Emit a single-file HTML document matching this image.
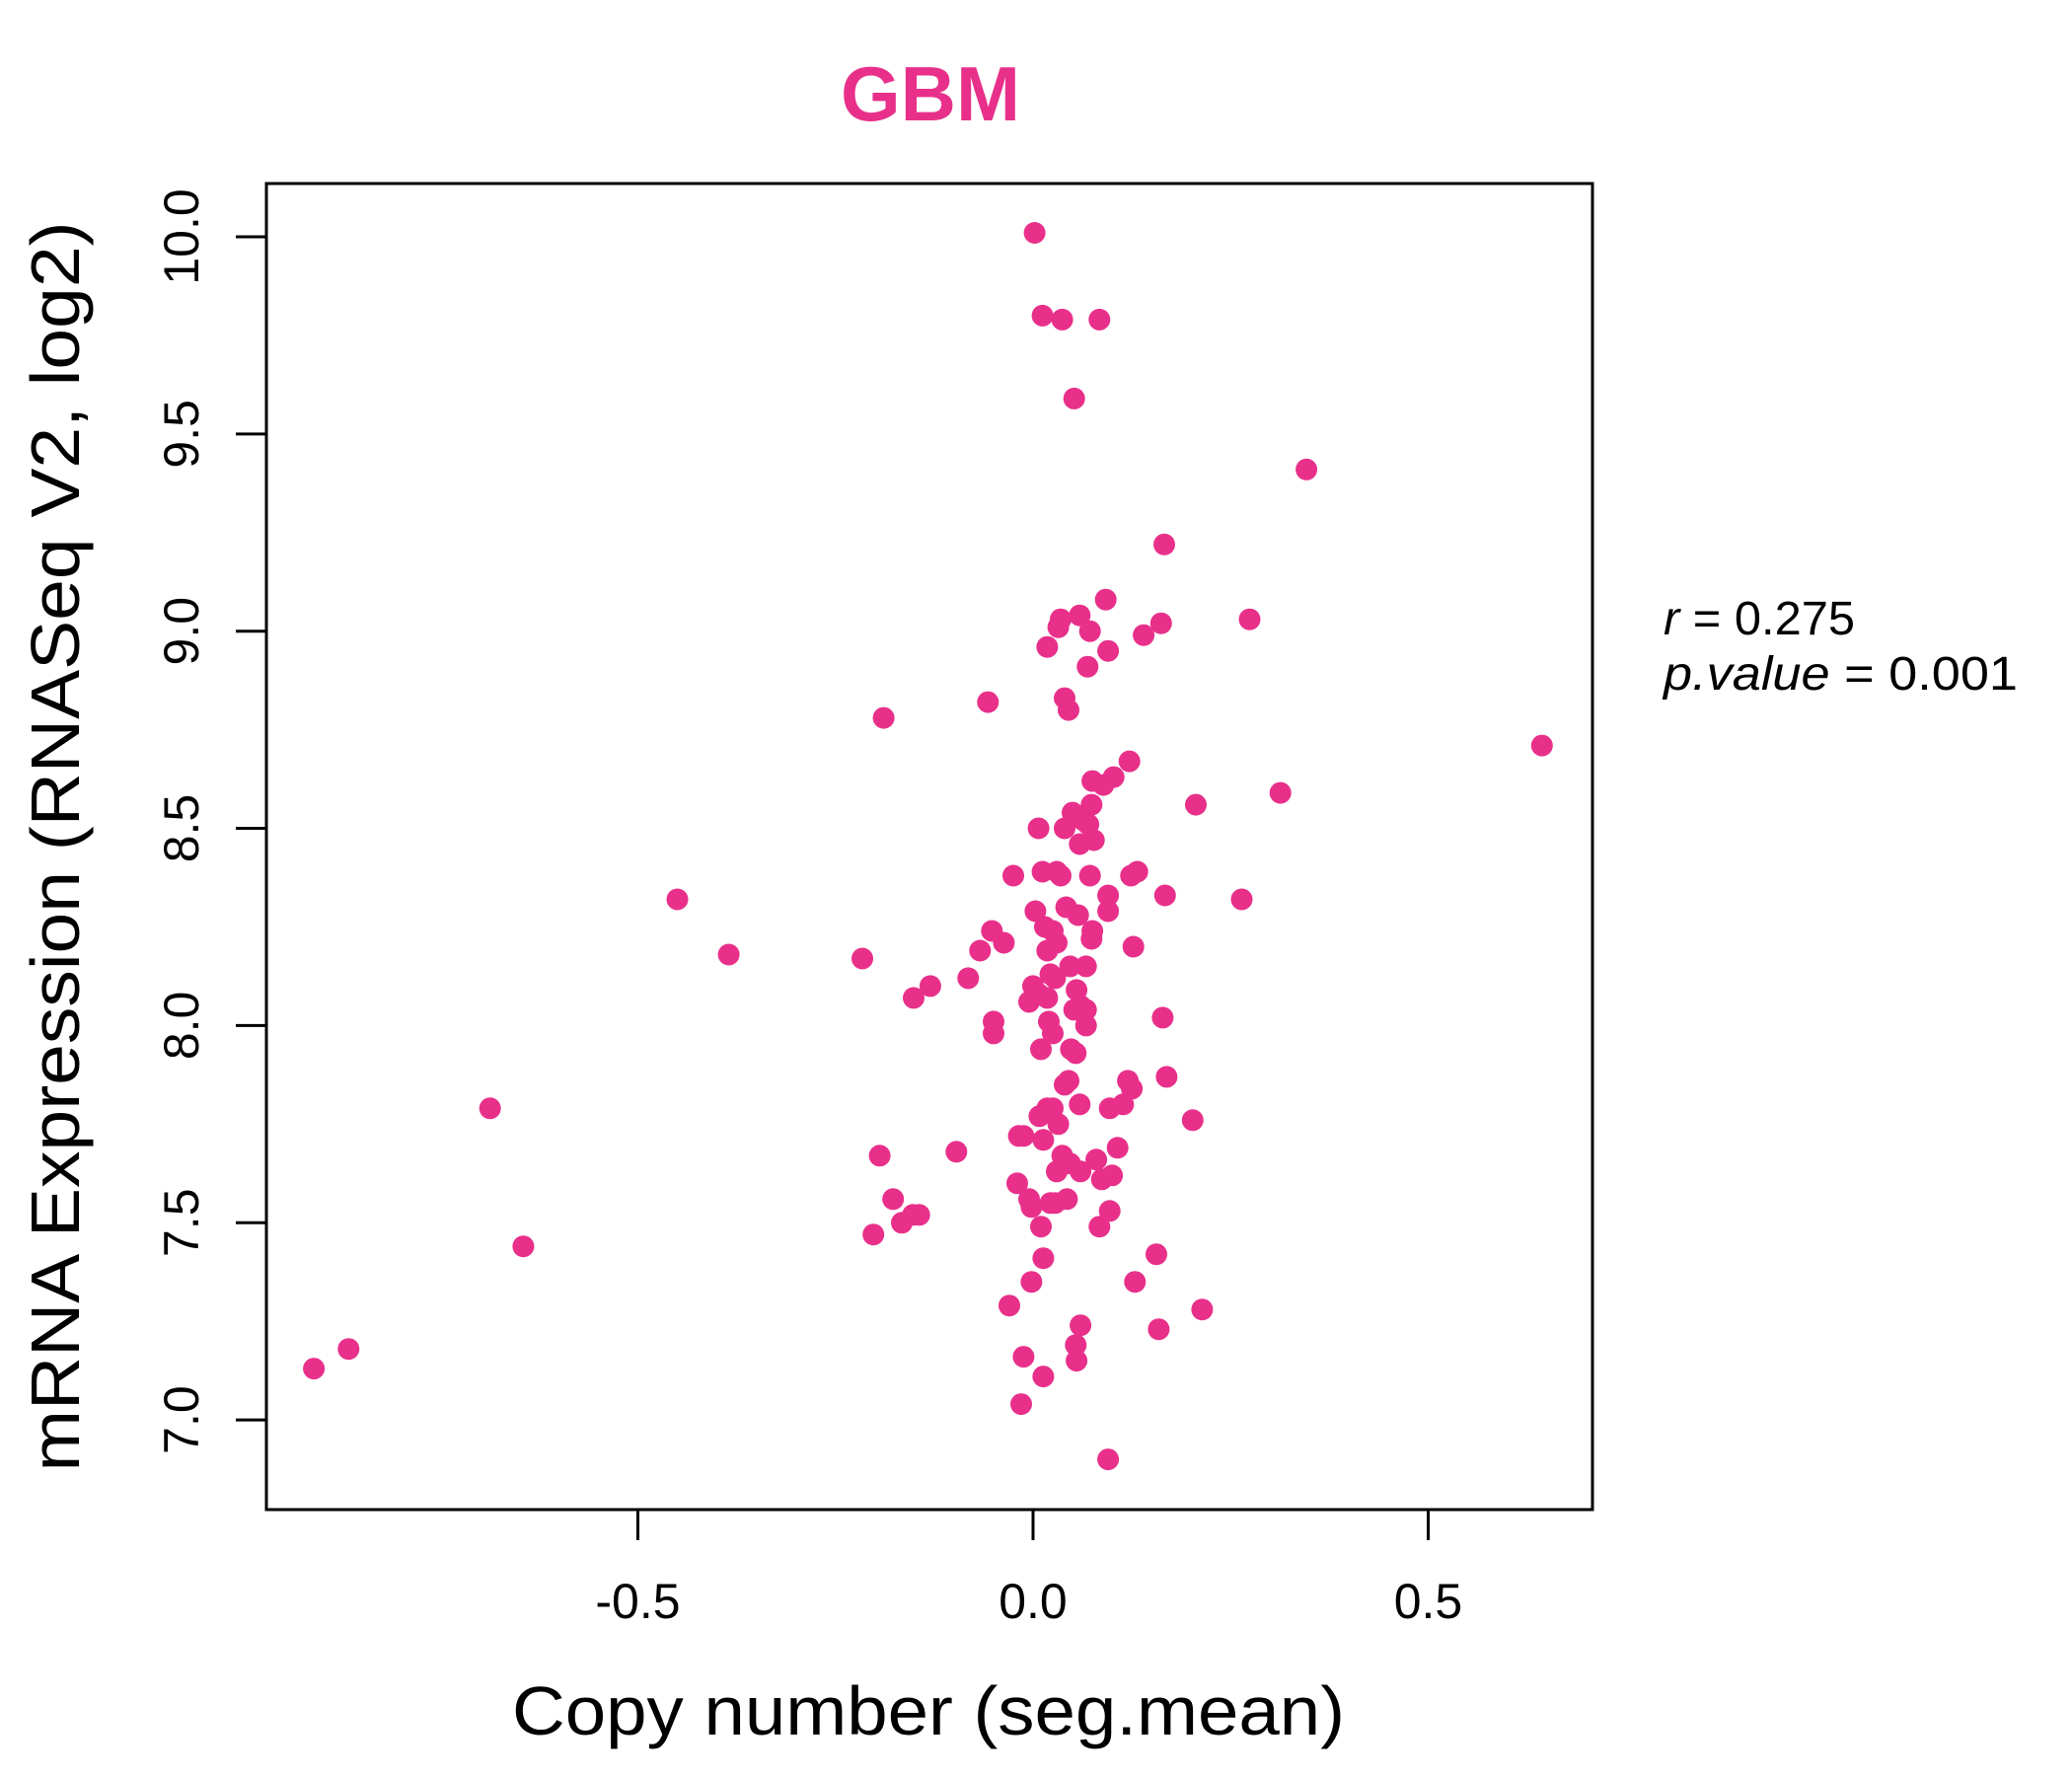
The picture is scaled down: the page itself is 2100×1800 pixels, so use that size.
<!DOCTYPE html>
<html>
<head>
<meta charset="utf-8">
<style>
html,body{margin:0;padding:0;background:#fff;}
svg{display:block;font-family:"Liberation Sans",sans-serif;}
</style>
</head>
<body>
<svg id="chart" width="2100" height="1800" viewBox="0 0 2100 1800" xmlns="http://www.w3.org/2000/svg">
  <rect x="0" y="0" width="2100" height="1800" fill="#fff"/>
  <text x="943" y="122" text-anchor="middle" font-size="78" font-weight="bold" fill="#E8308A">GBM</text>
  <g id="points"></g>
  <rect x="270" y="186" width="1344" height="1344" fill="none" stroke="#000" stroke-width="3"/>
  <g id="xaxis"></g>
  <g id="yaxis"></g>
  <text x="941" y="1758" text-anchor="middle" font-size="70" textLength="844" lengthAdjust="spacingAndGlyphs">Copy number (seg.mean)</text>
  <text transform="translate(80,858) rotate(-90)" text-anchor="middle" font-size="70" textLength="1267" lengthAdjust="spacingAndGlyphs">mRNA Expression (RNASeq V2, log2)</text>
  <text x="1686" y="643" font-size="48" textLength="194" lengthAdjust="spacingAndGlyphs"><tspan font-style="italic">r</tspan> = 0.275</text>
  <text x="1686" y="699" font-size="48" textLength="359" lengthAdjust="spacingAndGlyphs"><tspan font-style="italic">p.value</tspan> = 0.001</text>
</svg>
<script>
const xValues = [0.002,0.012,0.037,0.084,0.052,0.346,0.166,0.092,0.035,0.032,0.059,0.072,0.162,0.274,0.140,0.095,0.018,0.069,-0.057,-0.189,0.040,0.045,0.644,0.122,0.102,0.075,0.089,0.206,0.313,0.074,0.050,0.064,0.040,0.070,0.007,0.059,0.077,-0.025,0.012,0.030,0.035,0.072,0.124,0.132,-0.450,0.095,0.167,0.264,0.003,0.042,0.057,0.095,0.015,0.025,-0.052,0.075,0.074,-0.037,-0.067,0.030,0.018,0.127,-0.385,-0.216,0.067,0.047,0.022,0.028,-0.082,-0.130,0.000,0.007,0.055,0.018,-0.005,-0.151,0.060,0.067,0.052,0.020,-0.050,0.067,0.164,-0.050,0.025,0.010,0.048,0.054,0.045,0.040,0.120,0.125,0.169,0.114,0.097,0.059,0.018,0.025,0.008,0.032,-0.018,-0.012,0.013,0.202,-0.097,0.107,-0.194,0.037,0.047,0.030,0.080,0.060,0.087,0.100,-0.020,-0.177,-0.005,0.028,0.043,-0.002,0.022,-0.152,-0.144,-0.166,-0.202,0.010,0.097,0.084,0.156,0.013,-0.002,0.129,-0.030,0.214,0.060,0.159,0.054,0.055,-0.012,0.013,-0.015,-0.645,-0.687,-0.910,-0.866,0.095];
const yValues = [10.01,9.80,9.79,9.79,9.59,9.41,9.22,9.08,9.03,9.01,9.04,9.00,9.02,9.03,8.99,8.95,8.96,8.91,8.82,8.78,8.83,8.80,8.71,8.67,8.63,8.62,8.61,8.56,8.59,8.56,8.54,8.52,8.50,8.51,8.50,8.46,8.47,8.38,8.39,8.39,8.38,8.38,8.38,8.39,8.32,8.33,8.33,8.32,8.29,8.30,8.28,8.29,8.25,8.24,8.24,8.24,8.22,8.21,8.19,8.21,8.19,8.20,8.18,8.17,8.15,8.15,8.13,8.12,8.12,8.10,8.10,8.08,8.09,8.07,8.06,8.07,8.05,8.04,8.04,8.01,8.01,8.00,8.02,7.98,7.98,7.94,7.94,7.93,7.86,7.85,7.86,7.84,7.87,7.80,7.79,7.80,7.79,7.79,7.77,7.75,7.72,7.72,7.71,7.76,7.68,7.69,7.67,7.67,7.65,7.63,7.66,7.63,7.61,7.62,7.60,7.56,7.56,7.55,7.56,7.54,7.55,7.52,7.52,7.50,7.47,7.49,7.53,7.49,7.42,7.41,7.35,7.35,7.29,7.28,7.24,7.23,7.19,7.15,7.16,7.11,7.04,7.44,7.79,7.13,7.18,6.90];
const xTicks = [-0.5, 0.0, 0.5];
const xTickLabels = ["-0.5", "0.0", "0.5"];
const yTicks = [7.0, 7.5, 8.0, 8.5, 9.0, 9.5, 10.0];
const yTickLabels = ["7.0", "7.5", "8.0", "8.5", "9.0", "9.5", "10.0"];

const NS = "http://www.w3.org/2000/svg";
function xScale(v){ return 1047 + v * 801; }
function yScale(v){ return 240 + (10 - v) * 399.7; }

const pts = document.getElementById('points');
for (let i = 0; i < xValues.length; i++) {
  const c = document.createElementNS(NS, 'circle');
  c.setAttribute('cx', xScale(xValues[i]).toFixed(1));
  c.setAttribute('cy', yScale(yValues[i]).toFixed(1));
  c.setAttribute('r', 11);
  c.setAttribute('fill', '#E8308A');
  
  
  pts.appendChild(c);
}

const xa = document.getElementById('xaxis');
for (let i = 0; i < xTicks.length; i++) {
  const x = xScale(xTicks[i]);
  const l = document.createElementNS(NS, 'line');
  l.setAttribute('x1', x); l.setAttribute('x2', x);
  l.setAttribute('y1', 1530); l.setAttribute('y2', 1561);
  l.setAttribute('stroke', '#000'); l.setAttribute('stroke-width', 3);
  
  
  xa.appendChild(l);
  const t = document.createElementNS(NS, 'text');
  t.setAttribute('x', x); t.setAttribute('y', 1640);
  t.setAttribute('text-anchor', 'middle'); t.setAttribute('font-size', 50);
  t.textContent = xTickLabels[i];
  
  
  xa.appendChild(t);
}

const ya = document.getElementById('yaxis');
for (let i = 0; i < yTicks.length; i++) {
  const y = yScale(yTicks[i]);
  const l = document.createElementNS(NS, 'line');
  l.setAttribute('x1', 239); l.setAttribute('x2', 270);
  l.setAttribute('y1', y); l.setAttribute('y2', y);
  l.setAttribute('stroke', '#000'); l.setAttribute('stroke-width', 3);
  
  
  ya.appendChild(l);
  const t = document.createElementNS(NS, 'text');
  t.setAttribute('transform', 'translate(201,' + y + ') rotate(-90)');
  t.setAttribute('text-anchor', 'middle'); t.setAttribute('font-size', 50);
  t.textContent = yTickLabels[i];
  
  
  ya.appendChild(t);
}
</script>
</body>
</html>
